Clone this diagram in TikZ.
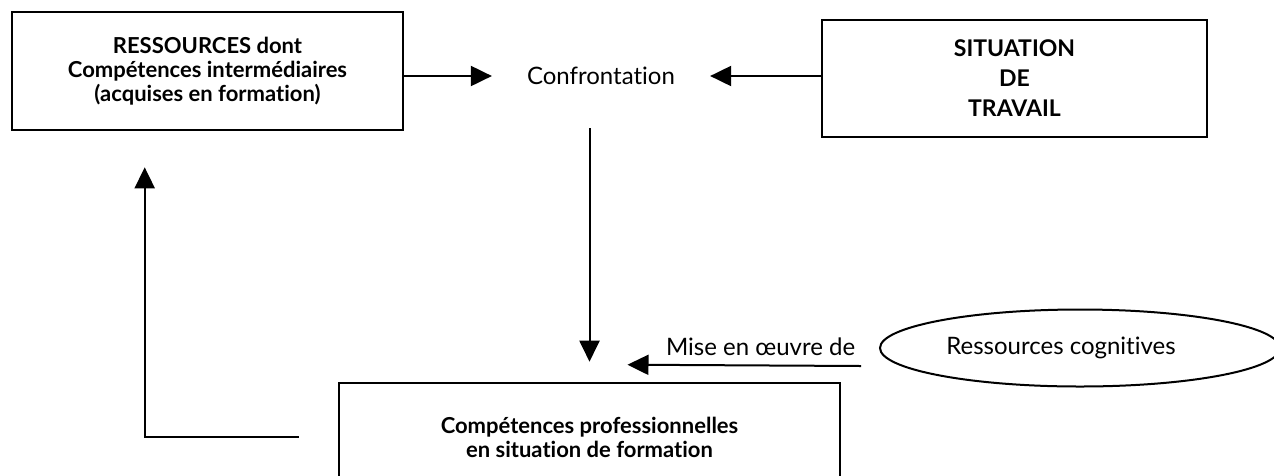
\documentclass[tikz,border=0pt]{standalone}
\usepackage{fontspec}
\setmainfont{Lato}[Ligatures=NoCommon]
\usetikzlibrary{arrows.meta,shapes.geometric}

\begin{document}
\begin{tikzpicture}[x=1pt,y=-1pt,
	box/.style={draw,line width=2.6pt,align=center,font=\bfseries\fontsize{22}{24}\selectfont},
	arr/.style={line width=2pt,-{Triangle[length=21pt,width=20pt]}},
	txt/.style={font=\fontsize{24}{28}\selectfont}]
	\useasboundingbox (0,0) rectangle (1274,475);
	% boxes
	\node[box,minimum width=391pt,minimum height=118pt] (res) at (207.5,71)
	{RESSOURCES dont\\Compétences intermédiaires\\(acquises en formation)};
	\node[box,minimum width=385pt,minimum height=117pt,font=\bfseries\fontsize{23}{30}\selectfont] (sit) at (1014.5,78.5)
	{SITUATION\\DE\\TRAVAIL};
	\node[box,minimum width=501pt,minimum height=108pt] (comp) at (589.5,437)
	{Compétences professionnelles\\en situation de formation};
	\node[txt,inner xsep=35pt] (conf) at (601,76) {Confrontation};
	\node[draw,ellipse,line width=2pt,minimum width=400pt,minimum height=77pt,
	label={[txt,xshift=-19pt]center:Ressources cognitives}] (cog) at (1080,348) {};
	
	\draw[arr] (res.east |- conf) -- (conf.west);
	\draw[arr] (sit.west |- conf) -- (conf.east);
	\draw[arr,shorten <=40pt] (comp.north |- conf.south) -- ([yshift=20pt]comp.north);
	\draw[arr] ([shift={(-18pt,-18pt)}]cog.west) 
	-- ([shift={(38pt,17pt)}]comp.north) node[txt,pos=0.43,above=5pt]{Mise en œuvre de}; % from the ellipse
	\draw[arr] ([xshift=-39pt]comp.west) -| ([shift={(134pt,-36pt)}]res.south west);
\end{tikzpicture}
\end{document}
